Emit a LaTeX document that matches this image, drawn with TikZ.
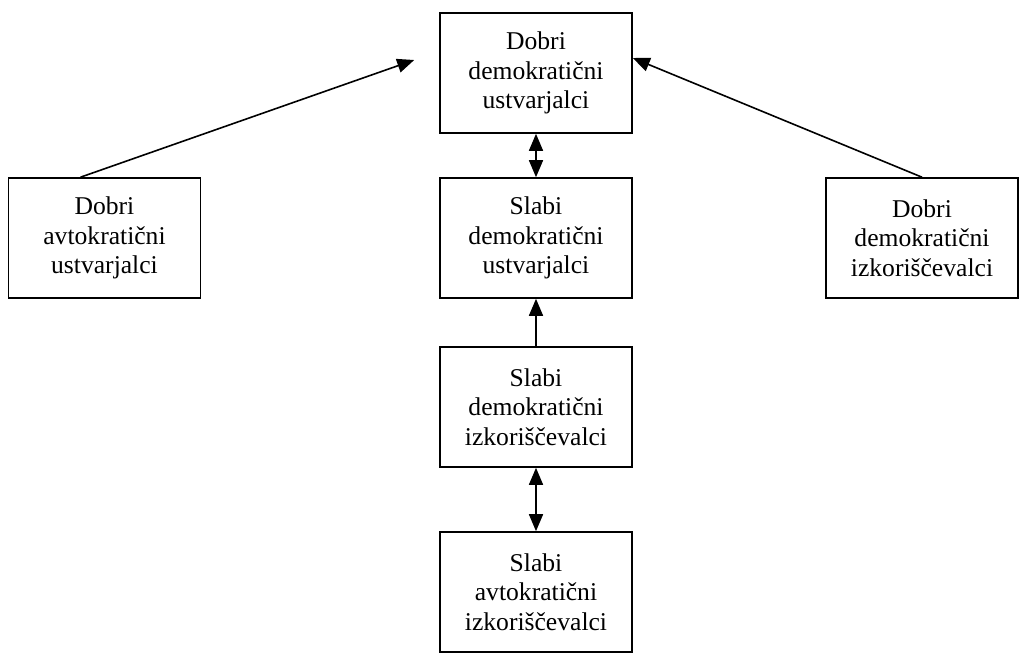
\documentclass[tikz,border=0pt]{standalone}
\usepackage{fontspec}
\setmainfont{Liberation Serif}
\usepackage{tikz}
\usetikzlibrary{arrows.meta,positioning,calc}

\begin{document}
\begin{tikzpicture}[>={Triangle[length=8.5pt,width=7pt]}, line width=0.8pt]
\tikzstyle{box}=[rectangle,draw,minimum width=96pt,minimum height=60pt,inner sep=0pt,align=center,font=\fontsize{12.8}{14.8}\selectfont]
\useasboundingbox (0,0) rectangle (514pt,-327.5pt);
\node[box] (dd) at (268pt,-36.5pt) {Dobri\\demokratični\\ustvarjalci};
\node[box, below of=dd, node distance=82.5pt] (sdu) {Slabi\\demokratični\\ustvarjalci};
\node[box, left of=sdu, node distance=215.75pt] (da) {Dobri\\avtokratični\\ustvarjalci};
\node[box, right of=sdu, node distance=193pt] (di) {Dobri\\demokratični\\izkoriščevalci};
\node[box, below of=sdu, node distance=84.5pt] (sdi) {Slabi\\demokratični\\izkoriščevalci};
\node[box, below of=sdi, node distance=92.5pt] (sai) {Slabi\\avtokratični\\izkoriščevalci};
\coordinate (tipl) at ($(dd.west)+(-12.5pt,6.5pt)$);
\coordinate (tipr) at ($(dd.east)+(0,7.5pt)$);
\draw[->] ($(da.north)+(-12pt,0)$)--(tipl);
\draw[->] (di.north)--(tipr);
\draw[<->] (dd)--(sdu);
\draw[->] (sdi)--(sdu);
\draw[<->] (sdi)--(sai);
\end{tikzpicture}
\end{document}
